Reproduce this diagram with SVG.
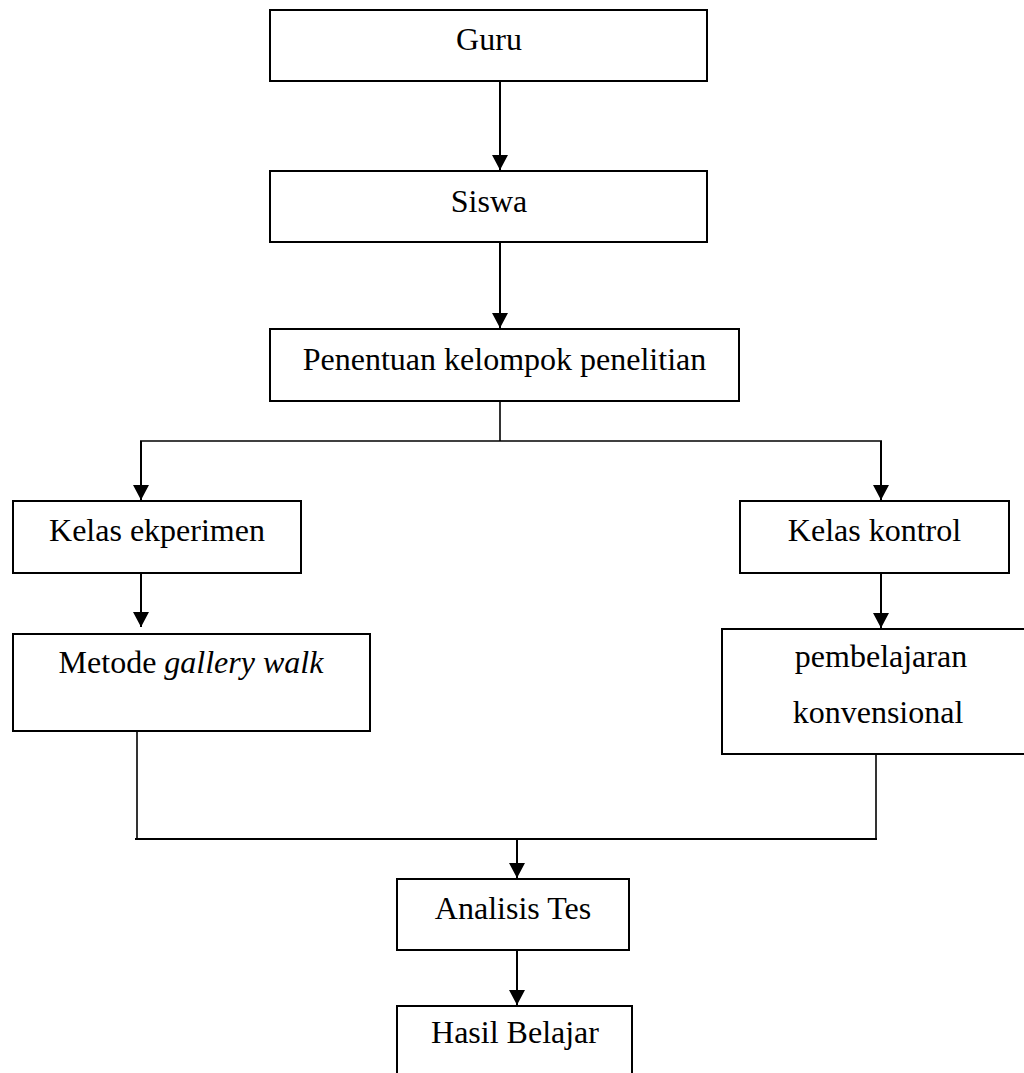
<svg xmlns="http://www.w3.org/2000/svg" width="1024" height="1073" viewBox="0 0 1024 1073">
<style>
.box{fill:#fff;stroke:#000;stroke-width:2}
.t{font-family:"Liberation Serif","Times New Roman",serif;font-size:32px;fill:#000;text-anchor:middle}
.c{fill:none;stroke:#000;stroke-width:2}
.l{fill:none;stroke:#000;stroke-width:1.6}
</style>
<defs>
<marker id="ah" markerUnits="userSpaceOnUse" markerWidth="15" markerHeight="16" viewBox="0 0 15 16" refX="15" refY="8" orient="auto">
<path d="M0,0 L15,8 L0,16 z" fill="#000"/>
</marker>
</defs>
<rect width="1024" height="1073" fill="#fff"/>
<g id="connectors">
<line class="c" x1="500" y1="81" x2="500" y2="170" marker-end="url(#ah)"/>
<line class="c" x1="500" y1="242" x2="500" y2="328" marker-end="url(#ah)"/>
<line class="l" x1="500" y1="401" x2="500" y2="441"/>
<line class="l" x1="140" y1="441" x2="882" y2="441"/>
<line class="c" x1="141" y1="441" x2="141" y2="500" marker-end="url(#ah)"/>
<line class="c" x1="881" y1="441" x2="881" y2="500" marker-end="url(#ah)"/>
<line class="c" x1="141" y1="573" x2="141" y2="627" marker-end="url(#ah)"/>
<line class="c" x1="881" y1="573" x2="881" y2="628" marker-end="url(#ah)"/>
<line class="l" x1="137" y1="731" x2="137" y2="839"/>
<line class="l" x1="876" y1="754" x2="876" y2="839"/>
<line class="c" x1="135" y1="839" x2="877" y2="839"/>
<line class="c" x1="517" y1="839" x2="517" y2="878" marker-end="url(#ah)"/>
<line class="c" x1="517" y1="950" x2="517" y2="1005" marker-end="url(#ah)"/>
</g>
<g id="guru">
<rect class="box" x="270" y="10" width="437" height="71"/>
<text class="t" x="489" y="50">Guru</text>
</g>
<g id="siswa">
<rect class="box" x="270" y="171" width="437" height="71"/>
<text class="t" x="489" y="212">Siswa</text>
</g>
<g id="penentuan">
<rect class="box" x="270" y="329" width="469" height="72"/>
<text class="t" x="504.5" y="370">Penentuan kelompok penelitian</text>
</g>
<g id="kelas-ekperimen">
<rect class="box" x="13" y="501" width="288" height="72"/>
<text class="t" x="157" y="541">Kelas ekperimen</text>
</g>
<g id="kelas-kontrol">
<rect class="box" x="740" y="501" width="269" height="72"/>
<text class="t" x="874.5" y="541">Kelas kontrol</text>
</g>
<g id="metode">
<rect class="box" x="13" y="634" width="357" height="97"/>
<text class="t" x="191" y="673">Metode <tspan font-style="italic">gallery walk</tspan></text>
</g>
<g id="pembelajaran">
<rect class="box" x="722" y="629" width="320" height="125"/>
<text class="t" x="881" y="667">pembelajaran</text>
<text class="t" x="878" y="723">konvensional</text>
</g>
<g id="analisis">
<rect class="box" x="397" y="879" width="232" height="71"/>
<text class="t" x="513" y="919">Analisis Tes</text>
</g>
<g id="hasil">
<rect class="box" x="397" y="1006" width="235" height="90"/>
<text class="t" x="515" y="1043">Hasil Belajar</text>
</g>
</svg>
